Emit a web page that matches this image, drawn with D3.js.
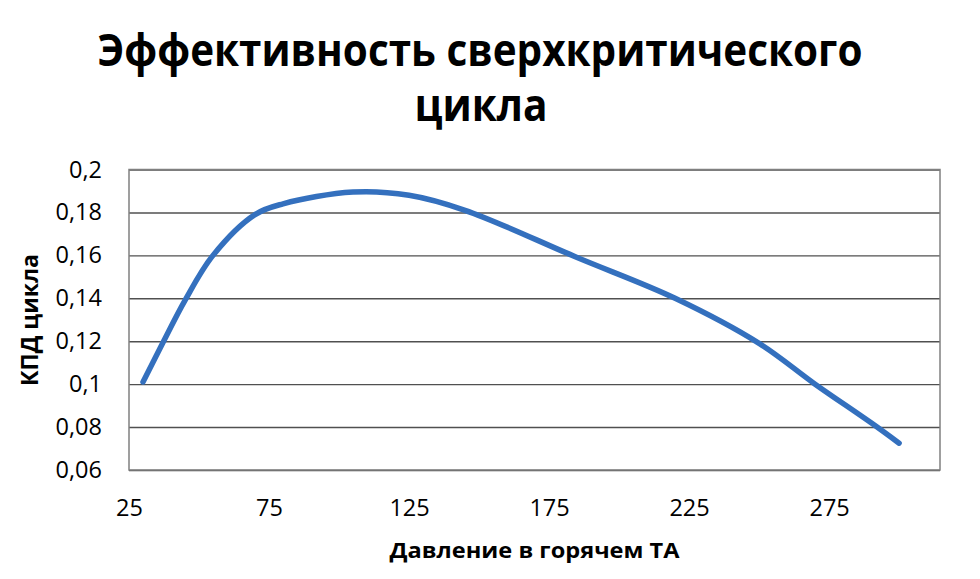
<!DOCTYPE html>
<html>
<head>
<meta charset="utf-8">
<script src="https://cdn.jsdelivr.net/npm/d3@7"></script>
<style>
  html, body { margin: 0; padding: 0; background: #fff; }
  svg { display: block; }
  text { font-family: "Open Sans", "DejaVu Sans", sans-serif; fill: #000; }
</style>
</head>
<body>
<svg id="chart" width="980" height="579"></svg>
<script>
// ---- data ----
const pressure = [30, 37, 45, 55, 70, 80, 105, 125, 145, 185, 220, 250, 270, 290, 300];
const efficiency = [0.101, 0.119, 0.139, 0.160, 0.179, 0.184, 0.1895, 0.188, 0.181, 0.159, 0.140, 0.119, 0.100, 0.082, 0.0725];
const xTicks = [25, 75, 125, 175, 225, 275];
const yTicks = [0.06, 0.08, 0.1, 0.12, 0.14, 0.16, 0.18, 0.2];
const titleLines = ["Эффективность сверхкритического", "цикла"];
const xTitle = "Давление в горячем ТА";
const yTitle = "КПД цикла";

// ---- layout ----
const svg = d3.select("#chart");
const plot = { left: 129, right: 940, top: 169.5, bottom: 470 };

const x = d3.scaleLinear().domain([25, 314.6]).range([plot.left, plot.right]);
const y = d3.scaleLinear().domain([0.06, 0.2]).range([plot.bottom, plot.top]);

const fmt = v => d3.format("~g")(+v.toFixed(2)).replace(".", ",");

// gridlines
const yAxis = d3.axisLeft(y).tickValues(yTicks).tickSize(-(plot.right - plot.left)).tickFormat(fmt).tickPadding(27);
const gy = svg.append("g").attr("transform", `translate(${plot.left},0)`).call(yAxis);
gy.select(".domain").remove();
gy.selectAll(".tick line").attr("stroke", "#505050").attr("stroke-width", 1.4);
gy.selectAll(".tick text").attr("font-size", 23.5).attr("fill", "#000");

// plot border
svg.append("rect")
  .attr("x", plot.left).attr("y", plot.top)
  .attr("width", plot.right - plot.left).attr("height", plot.bottom - plot.top)
  .attr("fill", "none").attr("stroke", "#808080").attr("stroke-width", 1.5);

// x axis labels
const xAxis = d3.axisBottom(x).tickValues(xTicks).tickSize(0).tickPadding(29).tickFormat(d3.format("d"));
const gx = svg.append("g").attr("transform", `translate(0,${plot.bottom})`).call(xAxis);
gx.select(".domain").remove();
gx.selectAll(".tick text").attr("font-size", 23.5).attr("fill", "#000");

// line
const pts = pressure.map((p, i) => [p, efficiency[i]]);
const line = d3.line().x(d => x(d[0])).y(d => y(d[1])).curve(d3.curveCatmullRom.alpha(0.5));
svg.append("path")
  .datum(pts)
  .attr("d", line)
  .attr("fill", "none")
  .attr("stroke", "#3470be")
  .attr("stroke-width", 5.5)
  .attr("stroke-linecap", "round")
  .attr("stroke-linejoin", "round");

// titles
svg.append("text").attr("x", 480).attr("y", 66).attr("text-anchor", "middle")
  .attr("font-size", 44).attr("font-weight", 700)
  .attr("textLength", 765).attr("lengthAdjust", "spacingAndGlyphs")
  .text(titleLines[0]);
svg.append("text").attr("x", 481).attr("y", 121).attr("text-anchor", "middle")
  .attr("font-size", 45).attr("font-weight", 700)
  .attr("textLength", 133).attr("lengthAdjust", "spacingAndGlyphs")
  .text(titleLines[1]);

svg.append("text").attr("x", (plot.left + plot.right) / 2).attr("y", 558).attr("text-anchor", "middle")
  .attr("font-size", 21).attr("font-weight", 700)
  .attr("textLength", 290).attr("lengthAdjust", "spacingAndGlyphs")
  .text(xTitle);

svg.append("text").attr("transform", "translate(38,320) rotate(-90)").attr("text-anchor", "middle")
  .attr("font-size", 23).attr("font-weight", 700)
  .attr("textLength", 132).attr("lengthAdjust", "spacingAndGlyphs")
  .text(yTitle);
</script>
</body>
</html>
